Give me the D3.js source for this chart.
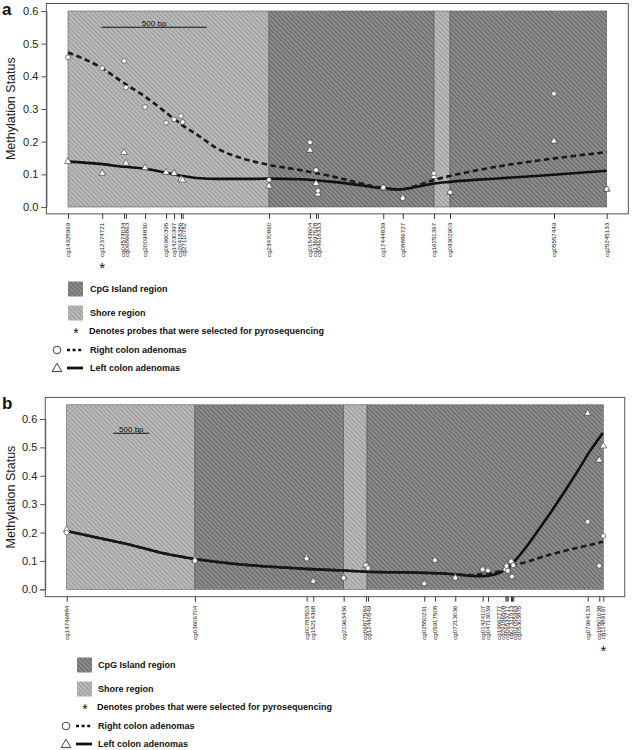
<!DOCTYPE html>
<html><head><meta charset="utf-8">
<script src="https://cdn.jsdelivr.net/npm/d3@7"></script>
<style>
body{margin:0;background:#fff;}
text{font-family:"Liberation Sans",Arial,sans-serif;}
</style></head>
<body><svg id="chart" width="632" height="750"></svg>
<script>
// ---------------- DATA ----------------
const yTicks = [0, 0.1, 0.2, 0.3, 0.4, 0.5, 0.6];

// Panel a
const probesA = ["cg14328969","cg12374721","cg04574034","cg06866863","cg20094830","cg00960395","cg14230397","cg20418386","cg27110782","cg23470860","cg01543604","cg13697528","cg04618333","cg17444839","cg08886727","cg16251367","cg09302903","cg05557449","cg25245133"];
const posA = [0,163,267,276,367,467,505,538,546,957,1152,1181,1190,1501,1594,1743,1819,2314,2565];
const rightA = [0.458,0.425,0.447,0.366,0.306,0.258,0.268,0.279,0.260,0.083,0.198,0.113,0.050,0.060,0.027,0.103,0.045,0.347,0.055];
const leftA = [0.139,0.103,0.167,0.134,0.120,0.106,0.103,0.085,0.082,0.064,0.174,0.072,0.040,0.058,0.030,0.093,0.044,0.202,0.054];
const selectedA = ["cg12374721"];
const regionStartA = [0,957,1743,1819];
const regionEndA = [957,1743,1819,2565];
const regionTypeA = ["shore","cpg","shore","cpg"];
const fitPosA = [0,152,267,367,467,546,629,708,786,867,957,1105,1262,1390,1500,1581,1662,1743,1819,2057,2295,2565];
const rightFitA = [0.473,0.429,0.379,0.338,0.289,0.250,0.215,0.180,0.158,0.142,0.129,0.113,0.093,0.073,0.058,0.054,0.066,0.083,0.095,0.125,0.147,0.168];
const leftFitA = [0.139,0.132,0.123,0.117,0.105,0.095,0.088,0.086,0.086,0.086,0.087,0.085,0.077,0.067,0.057,0.054,0.062,0.072,0.077,0.088,0.098,0.111];
const scaleBarA = [160, 500];

// Panel b
const probesB = ["cg14746884","cg03606704","cg00782503","cg15214368","cg21963436","cg06877584","cg12440549","cg02550231","cg05917508","cg07213036","cg01424107","cg04713039","cg19662777","cg26186508","cg06533717","cg07311513","cg02055963","cg05303875","cg07964133","cg16501038","cg11489197"];
const posB = [0,1782,3335,3427,3850,4160,4188,4970,5119,5401,5782,5856,6099,6113,6130,6176,6190,6208,7242,7403,7459];
const rightB = [0.200,0.100,0.108,0.028,0.040,0.085,0.075,0.020,0.102,0.040,0.070,0.066,0.070,0.082,0.065,0.098,0.045,0.085,0.238,0.083,0.188];
const leftB = [0.210,0.105,0.112,0.030,0.042,0.083,0.074,0.022,0.104,0.042,0.072,0.068,0.072,0.085,0.070,0.100,0.046,0.088,0.620,0.455,0.505];
const selectedB = ["cg11489197"];
const regionStartB = [0,1782,3850,4174];
const regionEndB = [1782,3850,4174,7459];
const regionTypeB = ["shore","cpg","shore","cpg"];
const fitPosB = [0,463,879,1296,1782,2546,3334,3848,4171,4963,5393,5602,5778,5949,6102,6185,6296,6435,6574,6713,6852,6991,7130,7269,7453];
const leftFitB = [0.205,0.180,0.157,0.130,0.107,0.085,0.072,0.066,0.062,0.058,0.053,0.048,0.046,0.052,0.070,0.088,0.120,0.165,0.215,0.265,0.318,0.372,0.428,0.485,0.551];
const rightFitB = [0.205,0.180,0.157,0.130,0.107,0.085,0.072,0.066,0.062,0.058,0.053,0.050,0.054,0.060,0.070,0.083,0.090,0.100,0.111,0.122,0.131,0.140,0.148,0.156,0.168];
const scaleBarB = [648, 500];

const legendLabels = ["CpG Island region","Shore region","Denotes probes that were selected for pyrosequencing","Right colon adenomas","Left colon adenomas"];

// ---------------- DRAW ----------------
const svg = d3.select("#chart");
const defs = svg.append("defs");
function hatch(id, bg, fg){
  const p = defs.append("pattern").attr("id", id).attr("patternUnits","userSpaceOnUse")
    .attr("width",3.2).attr("height",3.2).attr("patternTransform","rotate(-45)");
  p.append("rect").attr("width",3.2).attr("height",3.2).attr("fill",bg);
  p.append("line").attr("x1",0.6).attr("y1",0).attr("x2",0.6).attr("y2",3.2).attr("stroke",fg).attr("stroke-width",1.1);
}
hatch("hShore","#bcbcbc","#979797");
hatch("hCpg","#8e8e8e","#646464");
const fillOf = t => t === "cpg" ? "url(#hCpg)" : "url(#hShore)";

function repel(xs, gap){
  const p = xs.slice();
  for(let it=0; it<400; it++){
    for(let i=1;i<p.length;i++){
      const d = p[i]-p[i-1];
      if(d<gap){ const s=(gap-d)/2; p[i-1]-=s; p[i]+=s; }
    }
  }
  return p;
}

function drawPanel(cfg){
  const g = svg.append("g");
  const x = d3.scaleLinear().domain(cfg.xDom).range(cfg.xRange);
  const y = d3.scaleLinear().domain([0,0.6]).range(cfg.yRange);
  const x0 = x(cfg.frameX[0]), x1 = x(cfg.frameX[1]);
  const yTop = y(cfg.frameY[1]), yBot = y(cfg.frameY[0]);

  // regions
  g.selectAll("rect.reg").data(cfg.regStart).join("rect")
    .attr("x", (d,i)=>x(d)).attr("width",(d,i)=>x(cfg.regEnd[i])-x(d))
    .attr("y", y(cfg.regTop)).attr("height", y(0)-y(cfg.regTop))
    .attr("fill",(d,i)=>fillOf(cfg.regType[i]))
    .attr("stroke","#5a5a5a").attr("stroke-width",0.6);

  // scale bar
  const sbY = cfg.scaleBarY;
  g.append("line").attr("x1",x(cfg.scaleBar[0])).attr("x2",x(cfg.scaleBar[0]+cfg.scaleBar[1]))
    .attr("y1",sbY).attr("y2",sbY).attr("stroke","#111").attr("stroke-width",1.1);
  g.append("text").attr("x",(x(cfg.scaleBar[0])+x(cfg.scaleBar[0]+cfg.scaleBar[1]))/2)
    .attr("y",sbY-1.5).attr("text-anchor","middle").attr("font-size",8).attr("fill","#111").text("500 bp");

  // fitted curves
  const lineL = d3.line().x((d,i)=>x(cfg.fitPos[i])).y(d=>y(d)).curve(d3.curveMonotoneX);
  g.append("path").attr("d", lineL(cfg.leftFit)).attr("fill","none").attr("stroke","#111").attr("stroke-width",2.6);
  g.append("path").attr("d", lineL(cfg.rightFit)).attr("fill","none").attr("stroke","#1a1a1a").attr("stroke-width",2.6)
    .attr("stroke-dasharray","5.5,3.5");

  // points
  const tri = d3.symbol().type(d3.symbolTriangle).size(20);
  g.selectAll("path.tri").data(cfg.left).join("path")
    .attr("transform",(d,i)=>`translate(${x(cfg.pos[i])},${y(d)})`).attr("d",tri)
    .attr("fill","#fff").attr("stroke","#333").attr("stroke-width",0.6);
  g.selectAll("circle.pt").data(cfg.right).join("circle")
    .attr("cx",(d,i)=>x(cfg.pos[i])).attr("cy",d=>y(d)).attr("r",2.4)
    .attr("fill","#fff").attr("stroke","#333").attr("stroke-width",0.6);

  // frame
  g.append("rect").attr("x",x0).attr("y",yTop).attr("width",x1-x0).attr("height",yBot-yTop)
    .attr("fill","none").attr("stroke","#555").attr("stroke-width",1);

  // y axis
  const ya = d3.axisLeft(y).tickValues(yTicks).tickFormat(d3.format(".1f")).tickSize(5).tickPadding(3);
  const yg = g.append("g").attr("transform",`translate(${x0},0)`).call(ya);
  yg.select(".domain").attr("stroke","#555");
  yg.selectAll("line").attr("stroke","#555");
  yg.selectAll("text").attr("font-size",11).attr("fill","#222").attr("font-family","Liberation Sans, Arial, sans-serif");

  // x axis ticks
  const xa = d3.axisBottom(x).tickValues(cfg.pos).tickFormat("").tickSize(5);
  const xg = g.append("g").attr("transform",`translate(0,${yBot})`).call(xa);
  xg.select(".domain").remove();
  xg.selectAll("line").attr("stroke","#222").attr("stroke-width",0.9);

  // probe labels
  const lx = repel(cfg.pos.map(p=>x(p)), cfg.gap);
  g.selectAll("text.pl").data(cfg.probes).join("text")
    .attr("transform",(d,i)=>`translate(${lx[i]},${yBot+9}) rotate(-90)`)
    .attr("text-anchor","end").attr("dy","0.35em").attr("font-size",6.2).attr("fill","#222").text(d=>d);
  cfg.probes.forEach((p,i)=>{
    if(cfg.selected.includes(p)){
      g.append("text").attr("x",x(cfg.pos[i])).attr("y",cfg.starY).attr("text-anchor","middle")
        .attr("font-size",15).attr("fill","#111").text("*");
    }
  });

  // y title (centred on plot frame)
  g.append("text").attr("transform",`translate(${cfg.titleX},${(yTop+yBot)/2}) rotate(-90)`)
    .attr("text-anchor","middle").attr("font-size",12.5).attr("fill","#222").text("Methylation Status");
  // panel letter
  g.append("text").attr("x",2).attr("y",cfg.letterY).attr("font-size",17).attr("font-weight","bold").attr("fill","#111").text(cfg.letter);

  // legend
  const L = cfg.legend;
  const lg = g.append("g");
  lg.append("rect").attr("x",L.sx).attr("y",L.ys[0]-7.5).attr("width",15).attr("height",15).attr("fill","url(#hCpg)");
  lg.append("rect").attr("x",L.sx).attr("y",L.ys[1]-7.5).attr("width",15).attr("height",15).attr("fill","url(#hShore)");
  lg.append("text").attr("x",L.sx+8).attr("y",L.ys[2]+7).attr("text-anchor","middle").attr("font-size",14).attr("fill","#111").text("*");
  lg.append("circle").attr("cx",L.mx).attr("cy",L.ys[3]).attr("r",3.8).attr("fill","#fff").attr("stroke","#111").attr("stroke-width",0.8);
  lg.append("line").attr("x1",L.sx-1).attr("x2",L.sx+15).attr("y1",L.ys[3]).attr("y2",L.ys[3]).attr("stroke","#111").attr("stroke-width",2.6).attr("stroke-dasharray","3,2.6");
  lg.append("path").attr("transform",`translate(${L.mx},${L.ys[4]+0.8})`).attr("d",d3.symbol().type(d3.symbolTriangle).size(40))
    .attr("fill","#fff").attr("stroke","#111").attr("stroke-width",0.8);
  lg.append("line").attr("x1",L.sx-1).attr("x2",L.sx+15).attr("y1",L.ys[4]).attr("y2",L.ys[4]).attr("stroke","#111").attr("stroke-width",2.8);
  lg.selectAll("text.lt").data(legendLabels).join("text")
    .attr("x",(d,i)=> i===2 ? L.tx-1 : L.tx).attr("y",(d,i)=>L.ys[i]).attr("dy","0.35em")
    .attr("font-size",9).attr("font-weight","bold").attr("fill","#111").text(d=>d);
}

drawPanel({
  letter:"a", letterY:15, titleX:15,
  probes:probesA, pos:posA, right:rightA, left:leftA, selected:selectedA,
  regStart:regionStartA, regEnd:regionEndA, regType:regionTypeA, regTop:0.6,
  fitPos:fitPosA, rightFit:rightFitA, leftFit:leftFitA,
  scaleBar:scaleBarA, scaleBarY:27.3,
  xDom:[0,2565], xRange:[68,606.7], frameX:[-103,2668],
  yRange:[207,11], frameY:[-0.021,0.623],
  gap:4.4, starY:273,
  legend:{sx:68, mx:57, tx:90, ys:[289,313,331,350,368]}
});
drawPanel({
  letter:"b", letterY:409, titleX:15,
  probes:probesB, pos:posB, right:rightB, left:leftB, selected:selectedB,
  regStart:regionStartB, regEnd:regionEndB, regType:regionTypeB, regTop:0.65,
  fitPos:fitPosB, rightFit:rightFitB, leftFit:leftFitB,
  scaleBar:scaleBarB, scaleBarY:433.3,
  xDom:[0,7459], xRange:[66.7,603.3], frameX:[-298,7757],
  yRange:[589.3,419], frameY:[-0.026,0.676],
  gap:4.0, starY:656,
  legend:{sx:77, mx:66, tx:98, ys:[665,689,707,726,744]}
});
</script></body></html>
